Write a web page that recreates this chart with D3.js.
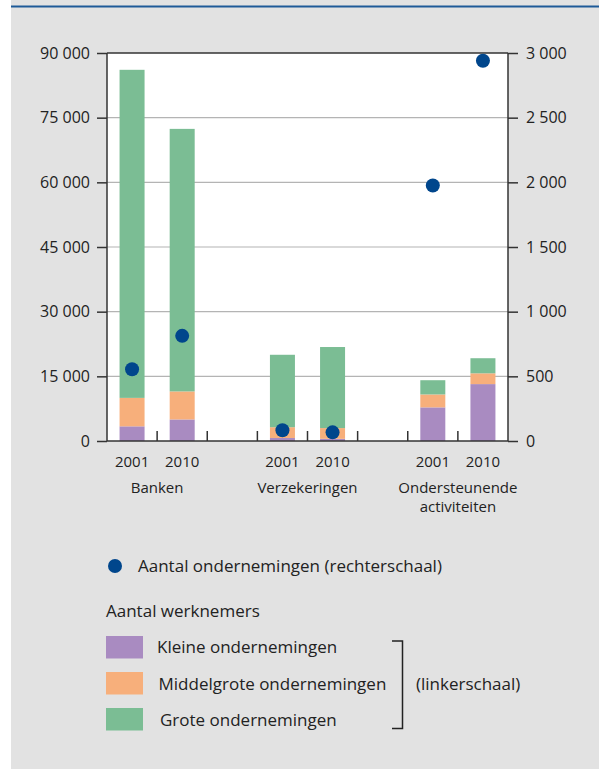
<!DOCTYPE html>
<html>
<head>
<meta charset="utf-8">
<script src="https://cdn.jsdelivr.net/npm/d3@7"></script>
<style>
  body { margin: 0; background: #fff; }
  svg { display: block; }
  text { font-family: "Open Sans", "Noto Sans", sans-serif; fill: #222; }
</style>
</head>
<body>
<svg width="599" height="769"></svg>
<script>
const groups = ["Banken", "Verzekeringen", "Ondersteunende activiteiten"];
const years = ["2001", "2010"];

// aantal werknemers (linkerschaal)
const kleine = [3400, 5000, 700, 500, 7800, 13200];
const middelgroot = [6600, 6500, 2500, 2500, 3000, 2500];
const groot = [76100, 60900, 16800, 18800, 3300, 3500];

// aantal ondernemingen (rechterschaal)
const ondernemingen = [555, 813, 83, 67, 1975, 2940];

const leftTicks = [0, 15000, 30000, 45000, 60000, 75000, 90000];
const rightTicks = [0, 500, 1000, 1500, 2000, 2500, 3000];

const seriesNames = ["Kleine ondernemingen", "Middelgrote ondernemingen", "Grote ondernemingen"];
const colors = ["#a98bc1", "#f7af7b", "#7bbd94"];
const dotColor = "#00468c";

const svg = d3.select("svg");
const fmt = v => d3.format(",")(v).replace(/,/g, " ");

// achtergrond
svg.append("rect").attr("x", 11).attr("y", 0).attr("width", 588).attr("height", 769).attr("fill", "#e2e2e2");
svg.append("rect").attr("x", 11).attr("y", 5.5).attr("width", 588).attr("height", 2).attr("fill", "#1e5a98");

const plotL = 107, plotR = 508, plotT = 53, plotB = 441;

// slots: 3 groepen van 2 jaren + lege ruimte ertussen
const x = d3.scaleBand().domain(d3.range(8)).range([plotL, plotR]);
const slotOf = i => Math.floor(i / 2) * 3 + (i % 2);
const barW = 25;

const yL = d3.scaleLinear().domain([0, 90000]).range([plotB, plotT]);
const yR = d3.scaleLinear().domain([0, 3000]).range([plotB, plotT]);

svg.append("rect").attr("x", plotL).attr("y", plotT).attr("width", plotR - plotL).attr("height", plotB - plotT).attr("fill", "#fff");

// rasterlijnen
svg.append("g").selectAll("line")
  .data(leftTicks.slice(1, -1))
  .enter().append("line")
  .attr("x1", plotL).attr("x2", plotR)
  .attr("y1", d => yL(d)).attr("y2", d => yL(d))
  .attr("stroke", "#b4b4b4").attr("stroke-width", 1.2);

// gestapelde balken
const rows = kleine.map((k, i) => ({ i, kleine: k, middel: middelgroot[i], groot: groot[i] }));
const stack = d3.stack().keys(["kleine", "middel", "groot"])(rows);

svg.append("g").selectAll("g")
  .data(stack)
  .enter().append("g")
  .attr("fill", (d, j) => colors[j])
  .selectAll("rect")
  .data(d => d)
  .enter().append("rect")
  .attr("x", d => x(slotOf(d.data.i)) + (x.bandwidth() - barW) / 2)
  .attr("width", barW)
  .attr("y", d => yL(d[1]))
  .attr("height", d => yL(d[0]) - yL(d[1]));

// assen
const axes = svg.append("g").attr("stroke", "#333").attr("stroke-width", 1.5);
axes.append("line").attr("x1", plotL).attr("x2", plotR).attr("y1", plotT).attr("y2", plotT);
axes.append("line").attr("x1", plotL).attr("x2", plotR).attr("y1", plotB).attr("y2", plotB);
axes.append("line").attr("x1", plotL).attr("x2", plotL).attr("y1", plotT).attr("y2", plotB);
axes.append("line").attr("x1", plotR).attr("x2", plotR).attr("y1", plotT).attr("y2", plotB);

const leftAxis = d3.axisLeft(yL).tickValues(leftTicks).tickFormat(fmt).tickSize(10).tickPadding(7);
const rightAxis = d3.axisRight(yR).tickValues(rightTicks).tickFormat(fmt).tickSize(10).tickPadding(8);

[[leftAxis, plotL], [rightAxis, plotR]].forEach(([ax, pos]) => {
  const g = svg.append("g").attr("transform", `translate(${pos},0)`).call(ax);
  g.select(".domain").remove();
  g.selectAll("line").attr("stroke", "#333").attr("stroke-width", 1.5);
  g.selectAll("text").attr("font-size", 16).attr("fill", "#222")
    .style("font-family", '"Open Sans", sans-serif');
});

// kleine streepjes op de x-as
svg.append("g").selectAll("line")
  .data(d3.range(1, 8))
  .enter().append("line")
  .attr("x1", d => x(d)).attr("x2", d => x(d))
  .attr("y1", plotB - 10).attr("y2", plotB)
  .attr("stroke", "#333").attr("stroke-width", 1.5);

// jaartallen en groepsnamen
const labels = svg.append("g").attr("text-anchor", "middle").attr("font-size", 15);
kleine.forEach((k, i) => {
  labels.append("text")
    .attr("x", x(slotOf(i)) + x.bandwidth() / 2)
    .attr("y", 467)
    .text(years[i % 2]);
});
groups.forEach((g, j) => {
  const cx = x(j * 3) + x.bandwidth();
  const lines = g === "Ondersteunende activiteiten" ? ["Ondersteunende", "activiteiten"] : [g];
  lines.forEach((l, n) => {
    labels.append("text").attr("x", cx).attr("y", 493 + n * 19).text(l);
  });
});

// punten
svg.append("g").selectAll("circle")
  .data(ondernemingen)
  .enter().append("circle")
  .attr("cx", (d, i) => x(slotOf(i)) + x.bandwidth() / 2)
  .attr("cy", d => yR(d))
  .attr("r", 7)
  .attr("fill", dotColor);

// legenda
const legend = svg.append("g").attr("font-size", 17);
legend.append("circle").attr("cx", 115).attr("cy", 566).attr("r", 7).attr("fill", dotColor);
legend.append("text").attr("x", 138).attr("y", 572).text("Aantal ondernemingen (rechterschaal)");
legend.append("text").attr("x", 106).attr("y", 617).text("Aantal werknemers");

seriesNames.forEach((name, j) => {
  legend.append("rect")
    .attr("x", 106).attr("y", 636 + j * 36)
    .attr("width", 37).attr("height", 22.5)
    .attr("fill", colors[j]);
  legend.append("text")
    .attr("x", 157 + j * 1.5).attr("y", 653 + j * 36.5)
    .text(name);
});

legend.append("path")
  .attr("d", "M392,641H402.5V728.5H392")
  .attr("fill", "none").attr("stroke", "#222").attr("stroke-width", 1.5);
legend.append("text").attr("x", 416).attr("y", 690).text("(linkerschaal)");
</script>
</body>
</html>
